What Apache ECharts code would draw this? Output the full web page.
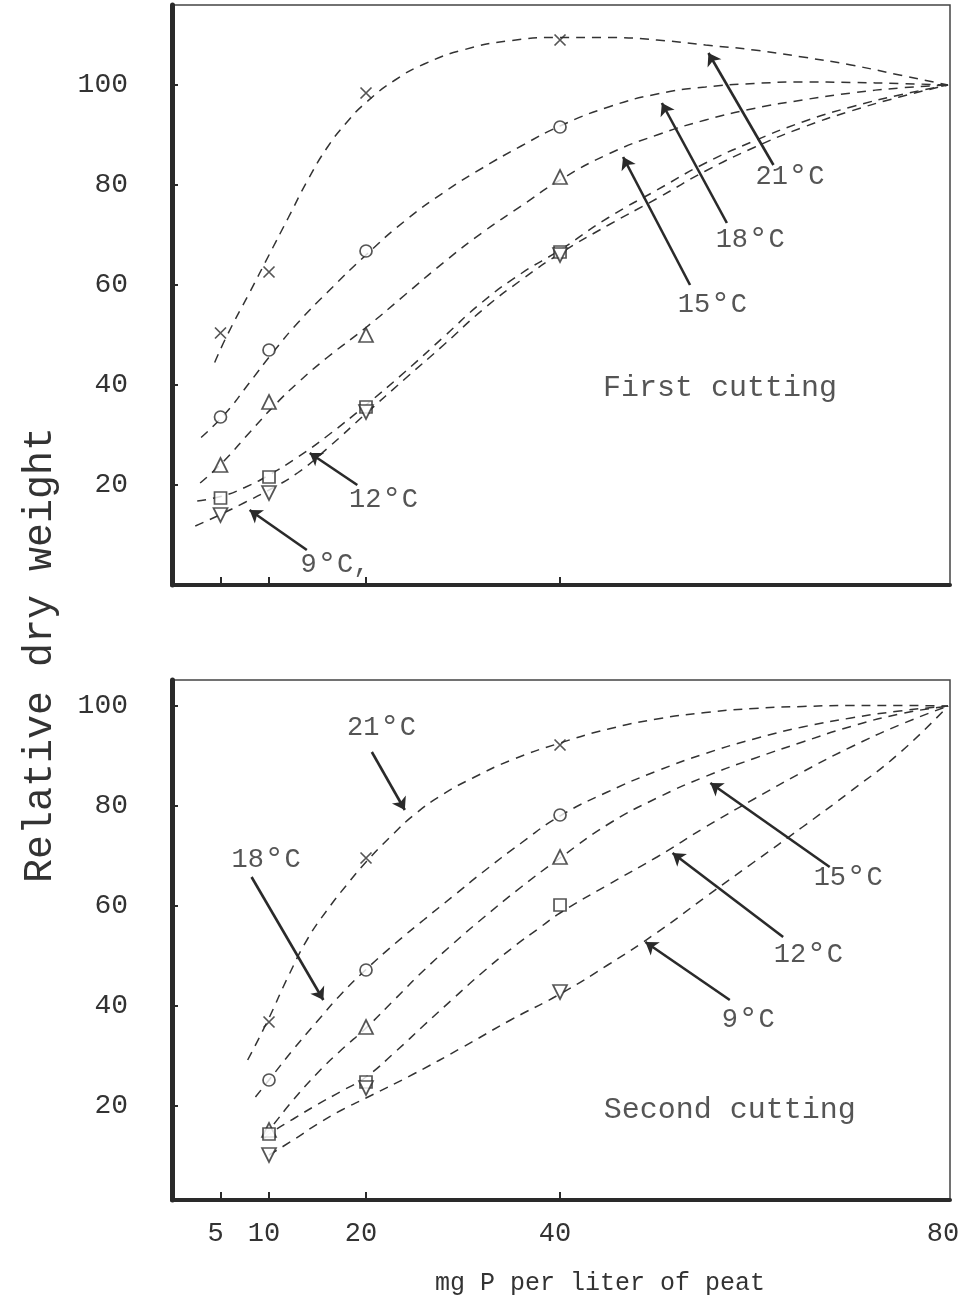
<!DOCTYPE html>
<html>
<head>
<meta charset="utf-8">
<script src="https://cdn.jsdelivr.net/npm/echarts@6/dist/echarts.min.js"></script>
<style>
  html, body { margin: 0; background: #fff; }
  #chart { width: 960px; height: 1310px; }
</style>
</head>
<body>
<div id="chart"></div>
<script>
'use strict';

// Temperatures, top to bottom curve order
const TEMPS = ['21', '18', '15', '12', '9'];

// ---- First cutting (top panel) ----
const firstDose = [5, 10, 20, 40];
const first21 = [50.4, 62.6, 98.4, 109.0];
const first18 = [33.6, 47.0, 66.8, 91.6];
const first15 = [24.0, 36.6, 50.0, 81.6];
const first12 = [17.4, 21.6, 35.6, 66.6];
const first9 = [14.0, 18.4, 34.6, 66.0];

// fitted curves as drawn (x = mg P, y = relative dry weight)
const firstCurve21 = [[4.4, 44.5], [5.7, 50], [8, 58.5], [10, 66], [12, 73.5], [14, 81], [16, 87.5], [18, 92.5],
  [20, 96.5], [23, 101], [26, 104.2], [30, 107], [35, 108.9], [40, 109.5], [45, 109.5], [50, 109], [55, 108],
  [60, 107], [65, 105.6], [70, 104], [75, 102], [80, 100]];
const firstCurve18 = [[3, 29.5], [5.5, 34.3], [8, 40.5], [10.4, 46.5], [13, 52.5], [16, 58.5], [20, 66], [24, 72.8],
  [28, 78.5], [32, 83.4], [36, 87.8], [40, 91.8], [45, 95.6], [50, 98.2], [55, 99.6], [60, 100.3], [65, 100.6],
  [70, 100.5], [75, 100.3], [80, 100]];
const firstCurve15 = [[2.9, 20.4], [5.2, 24.5], [8, 30.5], [10.6, 36], [13, 40.5], [16, 45.5], [20, 51.5], [24, 58],
  [28, 64.5], [32, 70.5], [36, 75.8], [40, 81], [45, 86.2], [50, 90], [55, 93], [60, 95.3], [65, 97], [70, 98.4],
  [75, 99.4], [80, 100]];
const firstCurve12 = [[2.6, 16.8], [5.2, 17.8], [7.5, 19.5], [10, 22], [13, 25.6], [16, 29.8], [20, 36], [24, 42.6],
  [28, 49.6], [32, 56.6], [36, 62.3], [40, 67], [45, 73.5], [50, 79], [55, 84.4], [60, 88.8], [65, 92.6],
  [70, 95.6], [75, 98], [80, 100]];
const firstCurve9 = [[2.4, 11.8], [4.9, 14], [7.5, 16.5], [10, 19], [13, 22.5], [16, 27.3], [20, 34.3], [24, 41.2],
  [28, 48], [32, 55], [36, 61], [40, 66.3], [45, 72], [50, 77.3], [55, 82.8], [60, 87.5], [65, 91.5], [70, 94.8],
  [75, 97.6], [80, 100]];

// annotation arrows [tailX, tailY, tipX, tipY] and label anchors [x, y, temp, suffix]
const firstArrows = [[62, 84, 55.3, 106.4], [57.2, 72.4, 50.5, 96.4], [53.4, 60, 46.5, 85.6],
  [19.1, 20, 14.2, 26.4], [13.9, 7, 8, 15]];
const firstTags = [[63.7, 81.6, '21', ''], [59.6, 69, '18', ''], [55.7, 56, '15', ''],
  [21.8, 17, '12', ''], [16.8, 4, '9', ',']];
const firstTitle = [56.5, 39.4, 'First cutting'];

// ---- Second cutting (bottom panel) ----
const secondDose = [10, 20, 40];
const second21 = [36.8, 69.6, 92.2];
const second18 = [25.2, 47.2, 78.2];
const second15 = [15.2, 35.8, 69.8];
const second12 = [14.4, 24.8, 60.2];
const second9 = [10.2, 23.6, 42.8];

const secondCurve21 = [[7.8, 29.2], [9.8, 36.8], [12, 46], [14, 53.5], [16, 59.2], [18, 64.2], [20, 68.8],
  [22.5, 73.8], [25, 78.3], [28, 82.4], [31, 85.6], [35, 89.2], [40, 92.6], [45, 95.4], [50, 97.4], [55, 98.7],
  [60, 99.5], [65, 99.9], [70, 100.1], [75, 100.1], [80, 100]];
const secondCurve18 = [[8.6, 21.8], [10, 25.2], [12.5, 31.3], [15, 37], [17.5, 42.5], [20, 47.3], [23, 52.5],
  [26, 57.3], [29, 62], [32, 66.7], [36, 72.6], [40, 78], [45, 82.9], [50, 87], [55, 90.5], [60, 93.4],
  [65, 95.8], [70, 97.6], [75, 99], [80, 100]];
const secondCurve15 = [[9.4, 14], [10, 15.2], [12.5, 21.2], [15, 26.6], [17.5, 31.3], [20, 35.6], [23, 41.4],
  [26, 47.2], [29, 52.5], [32, 57.5], [36, 63.8], [40, 69.6], [45, 76.4], [50, 81.6], [55, 85.9], [60, 89.5],
  [65, 92.8], [70, 95.9], [75, 98.4], [80, 100]];
const secondCurve12 = [[9.5, 13.5], [10, 14.4], [12.5, 17.4], [15, 20.3], [17.5, 23], [20, 25.8], [23, 30.8],
  [26, 36.2], [29, 41.5], [32, 46.7], [35, 51.5], [38, 55.8], [40, 58.6], [45, 64.3], [50, 69.8], [55, 75.8],
  [60, 81.4], [65, 86.8], [70, 91.8], [75, 96.2], [80, 100]];
const secondCurve9 = [[10, 10.2], [12.5, 13.2], [15, 16.4], [17.5, 19.2], [20, 21.6], [25, 26.5], [30, 31.8],
  [35, 37.3], [40, 42.4], [45, 48.3], [50, 54.7], [55, 61.8], [60, 68.8], [65, 75.8], [70, 83], [75, 90.6],
  [80, 100]];

const secondArrows = [[20.6, 90.8, 24, 79.2], [8.2, 65.8, 15.6, 41.2], [67.8, 67.8, 55.5, 84.6],
  [63, 53.8, 51.6, 70.6], [57.5, 41.2, 48.8, 52.8]];
const secondTags = [[21.6, 95.6, '21', ''], [9.7, 69.2, '18', ''], [69.7, 65.6, '15', ''],
  [65.6, 50.2, '12', ''], [59.4, 37.2, '9', '']];
const secondTitle = [57.5, 19.2, 'Second cutting'];

// axis ticks
const doseTicks = [5, 10, 20, 40];
const doseLabels = [5, 10, 20, 40, 80];
const weightTicks = [20, 40, 60, 80, 100];

const FONT = '"Liberation Mono", "DejaVu Sans Mono", monospace';
const INK = '#2a2a2a';
const CROSS = 'path://M0,0L10,10M10,0L0,10';
const SYMBOLS = [CROSS, 'circle', 'triangle', 'rect', 'triangle'];
const SIZES = [11, 12, 14, 12, 14];

function panelSeries(gi, dose, points, curves, arrows, tags, title) {
  const out = [];
  TEMPS.forEach((t, i) => {
    out.push({
      type: 'line',
      xAxisIndex: gi,
      yAxisIndex: gi,
      data: curves[i],
      smooth: 0.5,
      showSymbol: false,
      silent: true,
      z: 2,
      lineStyle: { color: '#333', width: 1.5, type: [9, 7] },
      markLine: {
        silent: true,
        symbol: ['none', 'arrow'],
        symbolSize: 12,
        label: { show: false },
        lineStyle: { color: INK, width: 2.6, type: 'solid' },
        data: [[{ coord: arrows[i].slice(0, 2) }, { coord: arrows[i].slice(2, 4) }]],
      },
    });
    out.push({
      type: 'scatter',
      xAxisIndex: gi,
      yAxisIndex: gi,
      data: dose.map((d, j) => [d, points[i][j]]),
      symbol: SYMBOLS[i],
      symbolRotate: i === 4 ? 180 : 0,
      symbolSize: SIZES[i],
      silent: true,
      z: 4,
      itemStyle: { color: '#fff', borderColor: INK, borderWidth: 1.7 },
    });
  });
  out.push({
    type: 'scatter',
    xAxisIndex: gi,
    yAxisIndex: gi,
    symbolSize: 0,
    silent: true,
    z: 5,
    data: tags.map(([x, y, t, tail]) => ({ value: [x, y], name: t, tail })),
    label: {
      show: true,
      position: 'inside',
      formatter: (p) => `{n|${p.name}}{d|°}{n|C${p.data.tail}}`,
      rich: {
        n: { fontFamily: FONT, fontSize: 27, color: INK },
        d: { fontFamily: FONT, fontSize: 34, color: INK },
      },
    },
  });
  out.push({
    type: 'scatter',
    xAxisIndex: gi,
    yAxisIndex: gi,
    symbolSize: 0,
    silent: true,
    z: 5,
    data: [{ value: title.slice(0, 2), name: title[2] }],
    label: {
      show: true,
      position: 'inside',
      formatter: '{b}',
      fontFamily: FONT,
      fontSize: 30,
      color: INK,
    },
  });
  return out;
}

function xAxis(gi, labels) {
  return {
    type: 'value',
    gridIndex: gi,
    min: 0,
    max: 80.2,
    splitLine: { show: false },
    axisLine: { show: true, lineStyle: { color: INK, width: 4 } },
    axisTick: { show: true, inside: true, length: 8, customValues: doseTicks, lineStyle: { color: INK, width: 2 } },
    axisLabel: labels
      ? { show: true, customValues: doseLabels, margin: 20, padding: [0, 10, 0, 0],
          fontFamily: FONT, fontSize: 27, color: '#333' }
      : { show: false },
  };
}

function yAxis(gi, min, max) {
  return {
    type: 'value',
    gridIndex: gi,
    min,
    max,
    splitLine: { show: false },
    axisLine: { show: true, lineStyle: { color: INK, width: 5 } },
    axisTick: { show: true, inside: true, length: 6, customValues: weightTicks, lineStyle: { color: INK, width: 2 } },
    axisLabel: { show: true, customValues: weightTicks, margin: 44, fontFamily: FONT, fontSize: 28, color: '#333' },
  };
}

const chart = echarts.init(document.getElementById('chart'), null, { renderer: 'canvas' });
chart.setOption({
  backgroundColor: '#fff',
  animation: false,
  grid: [
    { left: 172, top: 5, width: 778, height: 580, outerBoundsMode: 'none', containLabel: false,
      show: true, borderColor: '#444', borderWidth: 1.5 },
    { left: 172, top: 680, width: 778, height: 520, outerBoundsMode: 'none', containLabel: false,
      show: true, borderColor: '#444', borderWidth: 1.5 },
  ],
  xAxis: [xAxis(0, false), xAxis(1, true)],
  yAxis: [yAxis(0, 0, 116), yAxis(1, 1.2, 105.2)],
  series: [
    ...panelSeries(0, firstDose, [first21, first18, first15, first12, first9],
      [firstCurve21, firstCurve18, firstCurve15, firstCurve12, firstCurve9], firstArrows, firstTags, firstTitle),
    ...panelSeries(1, secondDose, [second21, second18, second15, second12, second9],
      [secondCurve21, secondCurve18, secondCurve15, secondCurve12, secondCurve9], secondArrows, secondTags, secondTitle),
  ],
  graphic: [
    {
      type: 'text',
      x: 40,
      y: 655,
      rotation: Math.PI / 2,
      style: { text: 'Relative dry weight', fontFamily: FONT, fontSize: 40, fill: '#333', align: 'center', verticalAlign: 'middle' },
    },
    {
      type: 'text',
      x: 600,
      y: 1283,
      style: { text: 'mg P per liter of peat', fontFamily: FONT, fontSize: 25, fill: '#333', align: 'center', verticalAlign: 'middle' },
    },
  ],
});
</script>
</body>
</html>
